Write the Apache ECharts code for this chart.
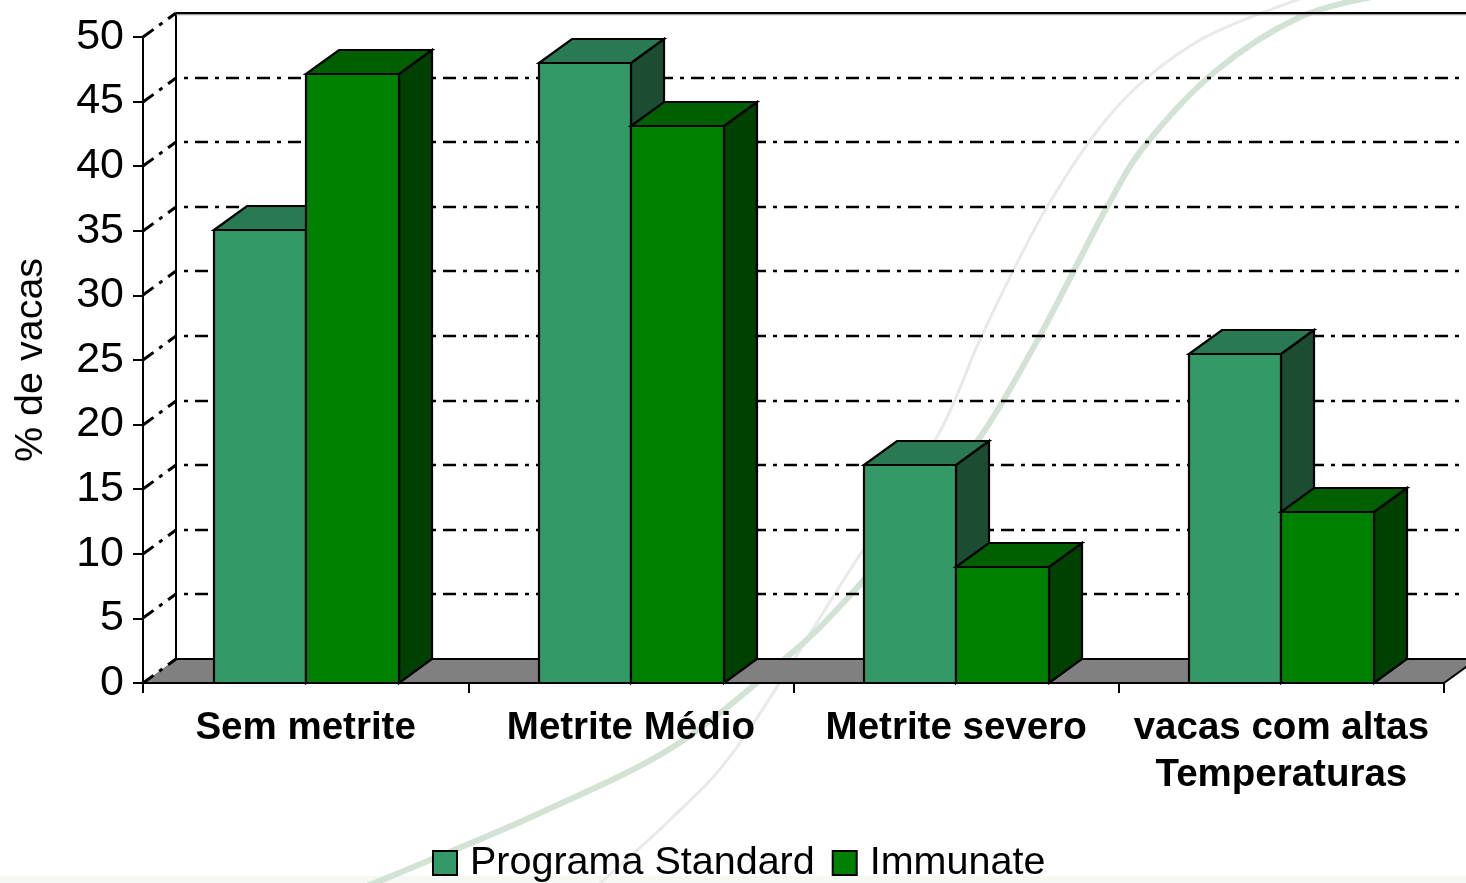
<!DOCTYPE html>
<html>
<head>
<meta charset="utf-8">
<style>html,body{margin:0;padding:0;background:#fff}#c{width:1466px;height:883px}</style>
<script src="https://cdn.jsdelivr.net/npm/echarts@6/dist/echarts.min.js"></script>
</head>
<body>
<div id="c"></div>
<script>
const categories = ['Sem metrite', 'Metrite Médio', 'Metrite severo', 'vacas com altas\nTemperaturas'];
const standardValues = [35.1, 48, 16.9, 25.5];
const immunateValues = [47.1, 43.1, 9, 13.2];
const yTicks = [0, 5, 10, 15, 20, 25, 30, 35, 40, 45, 50];
const seriesNames = ['Programa Standard', 'Immunate'];

const DX = 33, DY = -24;
const FONT = '"Liberation Sans", Arial, sans-serif';
const DASH = [13, 7, 4, 7];

const swooshGreen = [[360,889],[423,863],[540,813],[673,747],[787,657],[843,603],[915,520],[983,433],[1043,330],[1107,207],[1147,143],[1217,70],[1300,17],[1380,-5]];
const swooshGrey = [[590,892],[673,817],[740,743],[850,570],[937,437],[983,333],[1047,207],[1117,107],[1200,40],[1310,-5]];

function smoothCurves(pts, style) {
  const out = [];
  for (let i = 0; i < pts.length - 1; i++) {
    const p0 = pts[Math.max(i - 1, 0)], p1 = pts[i], p2 = pts[i + 1], p3 = pts[Math.min(i + 2, pts.length - 1)];
    out.push({ type: 'bezierCurve', z: 1, silent: true,
      shape: { x1: p1[0], y1: p1[1], x2: p2[0], y2: p2[1],
        cpx1: p1[0] + (p2[0] - p0[0]) / 6, cpy1: p1[1] + (p2[1] - p0[1]) / 6,
        cpx2: p2[0] - (p3[0] - p1[0]) / 6, cpy2: p2[1] - (p3[1] - p1[1]) / 6 },
      style: style });
  }
  return out;
}

function renderWall(params, api) {
  const v = api.value(1);
  const cs = params.coordSys;
  const y = Math.round(api.coord([0, v])[1]);
  const x0 = cs.x, x1 = cs.x + cs.width;
  const kids = [];
  const black = { stroke: '#000', lineWidth: 2, fill: null };
  if (v === 0) {
    kids.push({ type: 'polygon', shape: { points: [[x0, y], [x0 + DX, y + DY], [x1 + DX, y + DY], [x1, y]] },
      style: { fill: '#808080', stroke: null } });
    kids.push({ type: 'line', shape: { x1: x1, y1: y, x2: x1 + DX, y2: y + DY }, style: black });
    const top = Math.round(api.coord([0, yTicks[yTicks.length - 1]])[1]);
    kids.push({ type: 'line', shape: { x1: x0 + DX, y1: y + DY, x2: x0 + DX, y2: top + DY }, style: black });
  }
  if (v === yTicks[yTicks.length - 1]) {
    kids.push({ type: 'line', shape: { x1: x0 + DX, y1: y + DY + 1.5, x2: x1 + DX, y2: y + DY + 1.5 },
      style: { stroke: '#a0a0a0', lineWidth: 1.5 } });
    kids.push({ type: 'line', shape: { x1: x0 + DX, y1: y + DY, x2: x1 + DX, y2: y + DY }, style: black });
  } else {
    kids.push({ type: 'line', shape: { x1: x0 + DX, y1: y + DY, x2: x1 + DX, y2: y + DY },
      style: { stroke: '#000', lineWidth: v === 0 ? 2 : 2.5, lineDash: v === 0 ? null : DASH, lineDashOffset: 12 } });
  }
  kids.push({ type: 'line', shape: { x1: x0, y1: y, x2: x0 + DX, y2: y + DY },
    style: { stroke: '#000', lineWidth: 3, lineDash: DASH } });
  return { type: 'group', children: kids };
}

function makeBars(side, fraction, front, top, dark) {
  return function (params, api) {
    const c = api.value(0), v = api.value(1);
    const p = api.coord([c, v]);
    const base = Math.round(api.coord([c, 0])[1]);
    const w = Math.round(api.size([1, 0])[0] * fraction);
    const xa = Math.round(side < 0 ? p[0] - w : p[0]);
    const xb = xa + w;
    const y = Math.round(p[1]);
    const edge = { stroke: '#000', lineWidth: 2.2, lineJoin: 'miter' };
    return { type: 'group', children: [
      { type: 'polygon', shape: { points: [[xb, y], [xb + DX, y + DY], [xb + DX, base + DY], [xb, base]] },
        style: Object.assign({ fill: dark }, edge) },
      { type: 'polygon', shape: { points: [[xa, y], [xa + DX, y + DY], [xb + DX, y + DY], [xb, y]] },
        style: Object.assign({ fill: top }, edge) },
      { type: 'rect', shape: { x: xa, y: y, width: w, height: base - y },
        style: Object.assign({ fill: front }, edge) }
    ] };
  };
}

const chart = echarts.init(document.getElementById('c'), null, { renderer: 'canvas' });
chart.setOption({
  animation: false,
  backgroundColor: '#fff',
  tooltip: { show: false },
  graphic: [
    { type: 'rect', z: 0, silent: true, shape: { x: 0, y: 876, width: 1466, height: 7 }, style: { fill: '#f6f9f3' } }
  ].concat(
    smoothCurves(swooshGrey, { stroke: '#e7eae7', lineWidth: 3, fill: null }),
    smoothCurves(swooshGreen, { stroke: '#d2e2d5', lineWidth: 6, fill: null })
  ),
  grid: { left: 143, right: 22, top: 37, bottom: 200, containLabel: false, outerBoundsMode: 'none' },
  legend: {
    left: 427, top: 838, itemWidth: 24, itemHeight: 24, itemGap: 17, selectedMode: false,
    icon: 'rect',
    data: seriesNames,
    textStyle: { fontFamily: FONT, fontSize: 39.5, color: '#000', padding: [0, 0, 0, 8] }
  },
  xAxis: {
    type: 'category', data: categories, z: 10,
    axisLine: { lineStyle: { color: '#000', width: 2 } },
    axisTick: { show: true, length: 10, lineStyle: { color: '#000', width: 2 }, alignWithLabel: false },
    axisLabel: { interval: 0, margin: 22, fontFamily: FONT, fontSize: 38.5, fontWeight: 'bold', color: '#000', lineHeight: 47 }
  },
  yAxis: {
    type: 'value', min: 0, max: 50, interval: 5, z: 10,
    name: '% de vacas', nameLocation: 'middle', nameGap: 92, nameRotate: 90,
    nameTextStyle: { fontFamily: FONT, fontSize: 39.5, color: '#000' },
    splitLine: { show: false },
    axisLine: { show: true, lineStyle: { color: '#000', width: 2 } },
    axisTick: { show: true, length: 10, lineStyle: { color: '#000', width: 2 } },
    axisLabel: { margin: 19, fontFamily: FONT, fontSize: 43, color: '#000', padding: [2, 0, 0, 0] }
  },
  series: [
    { type: 'custom', z: 2, silent: true, clip: false, coordinateSystem: 'cartesian2d',
      encode: { x: 0, y: 1 }, renderItem: renderWall, data: yTicks.map(v => [0, v]) },
    { type: 'custom', name: seriesNames[0], z: 3, silent: true, clip: false,
      itemStyle: { color: '#339966', borderColor: '#000', borderWidth: 2 },
      encode: { x: 0, y: 1 }, renderItem: makeBars(-1, 0.283, '#339966', '#297a52', '#1c4d33'),
      data: standardValues.map((v, i) => [i, v]) },
    { type: 'custom', name: seriesNames[1], z: 4, silent: true, clip: false,
      itemStyle: { color: '#008000', borderColor: '#000', borderWidth: 2 },
      encode: { x: 0, y: 1 }, renderItem: makeBars(1, 0.286, '#008000', '#005f00', '#004000'),
      data: immunateValues.map((v, i) => [i, v]) }
  ]
});
</script>
</body>
</html>
